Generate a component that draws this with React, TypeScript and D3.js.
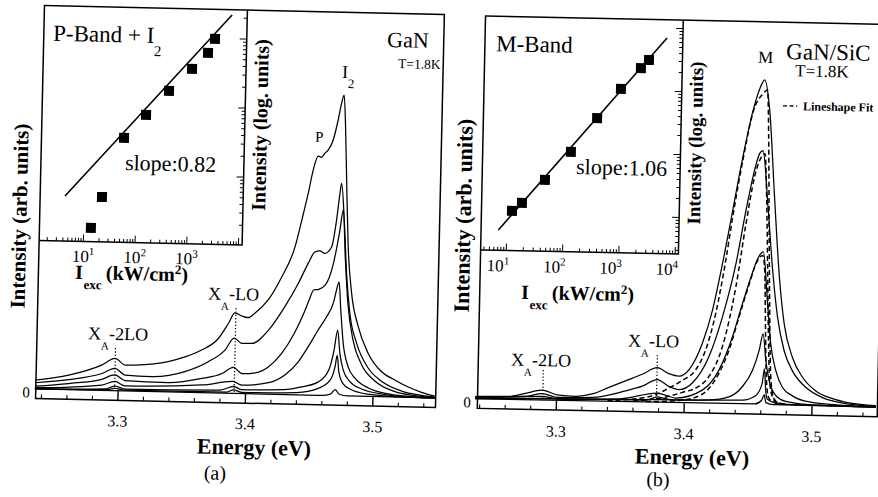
import React, { Component } from 'react';
import * as d3 from 'd3';

type Pt = [number, number];

const FONT = '"Liberation Serif", "Times New Roman", serif';
const fontStyle = { fontFamily: FONT };

function translate(x: number, y: number) {
  return `translate(${x}, ${y})`;
}

// text helpers: the family has to sit on each element
function T(props: any) {
  return <text fill="#000" {...props} style={fontStyle} />;
}
function S(props: any) {
  return <tspan {...props} style={fontStyle} />;
}

// energy axis (both panels)
const energyMajor = [3.3, 3.4, 3.5];
const energyTickLabels = ['3.3', '3.4', '3.5'];
const energyMinor = [3.24, 3.26, 3.28, 3.32, 3.34, 3.36, 3.38, 3.42, 3.44, 3.46, 3.48, 3.52, 3.54];

// ---- (a) GaN, PL spectra [energy eV, intensity arb.] ----
const specA1: Pt[] = [
  [3.235, 2.3], [3.261, 3.8], [3.2866, 6.6], [3.297, 8.4], [3.3055, 6.7], [3.3128, 6.8],
  [3.3388, 7.9], [3.3518, 9.2], [3.3648, 11.1], [3.3777, 14.2], [3.3852, 18.1], [3.3902, 21.0],
  [3.3956, 20.2], [3.4008, 19.8], [3.4059, 21.0], [3.4162, 24.6], [3.4263, 30.6], [3.4362, 38.5],
  [3.4411, 45.6], [3.4456, 52.5], [3.4491, 58.6], [3.4527, 62.3], [3.4554, 62.0], [3.458, 63.1],
  [3.4605, 63.9], [3.4642, 66.5], [3.4678, 71.8], [3.4702, 76.2], [3.472, 78.3], [3.4737, 70.1],
  [3.4759, 53], [3.4779, 38.9], [3.4814, 26.8], [3.4872, 18.1], [3.4955, 11.2], [3.5063, 6.5],
  [3.5171, 4.4], [3.5275, 2.7], [3.538, 1.4], [3.5485, 0.5],
];
const specA2: Pt[] = [
  [3.2347, 1.6], [3.2609, 2.6], [3.287, 4.4], [3.2971, 5.8], [3.3053, 4.1], [3.3262, 3.9],
  [3.352, 5.4], [3.3702, 8.1], [3.3831, 11.2], [3.3901, 14.4], [3.396, 13.1], [3.4038, 13.1],
  [3.4167, 16.6], [3.4293, 22.9], [3.4394, 29.0], [3.4468, 34.3], [3.4519, 37.3], [3.4558, 37.6],
  [3.4597, 37.0], [3.4649, 38.7], [3.4683, 45.7], [3.4705, 52.7], [3.4716, 55.3], [3.4745, 45],
  [3.4772, 31.5], [3.4804, 21.5], [3.4862, 13.8], [3.4957, 7.4], [3.5067, 4.0], [3.5224, 1.6],
  [3.5381, 0.6], [3.5485, 0.2],
];
const specA3: Pt[] = [
  [3.2347, 0.7], [3.2609, 1.6], [3.287, 2.9], [3.2972, 4.1], [3.3053, 2.7], [3.3393, 2.4],
  [3.3655, 3.7], [3.3812, 5.1], [3.3899, 6.8], [3.3969, 5.2], [3.4073, 5.5], [3.4174, 7.1],
  [3.4276, 10.7], [3.4372, 16.0], [3.4438, 20.9], [3.4483, 24.8], [3.4516, 27.4], [3.4555, 27.6],
  [3.4607, 28.8], [3.4666, 34.4], [3.4711, 43.1], [3.4734, 48.4], [3.4758, 36], [3.4787, 24],
  [3.4834, 14.5], [3.4904, 8.3], [3.5014, 4.0], [3.5171, 1.4], [3.5328, 0.5], [3.5485, 0.1],
];
const specA4: Pt[] = [
  [3.2347, 0.3], [3.287, 1.4], [3.2974, 2.4], [3.3053, 1.3], [3.3655, 2.0], [3.3897, 3.1],
  [3.3969, 2.2], [3.4178, 3.0], [3.4305, 5.1], [3.4408, 8.6], [3.4483, 12.6], [3.4558, 17.0],
  [3.4622, 20.5], [3.4675, 24.4], [3.4695, 27.5], [3.4714, 29.6], [3.4732, 22.4], [3.4757, 13.7],
  [3.48, 7.6], [3.4857, 4.6], [3.4962, 2.2], [3.5119, 0.8], [3.5355, 0.1], [3.5485, 0],
];
const specA5: Pt[] = [
  [3.2347, 0.1], [3.29, 0.4], [3.2975, 1.2], [3.3053, 0.5], [3.38, 0.8], [3.3906, 1.8],
  [3.3969, 1.0], [3.43, 1.3], [3.4439, 2.1], [3.4569, 3.5], [3.4648, 6.6], [3.4687, 11.9],
  [3.4711, 17.1], [3.4733, 11], [3.4762, 6.7], [3.4818, 3.7], [3.491, 1.9], [3.5093, 0.6],
  [3.53, 0.1], [3.5485, 0],
];
const specA6: Pt[] = [
  [3.2347, 0], [3.29, 0.2], [3.2975, 0.6], [3.3053, 0.2], [3.385, 0.3], [3.3906, 0.9],
  [3.3969, 0.3], [3.44, 0.6], [3.4569, 1.8], [3.4661, 4.0], [3.4697, 7.5], [3.4712, 10.5],
  [3.4728, 6.2], [3.4762, 3.2], [3.4826, 1.7], [3.4957, 0.6], [3.52, 0.1], [3.5485, 0],
];
const specA7: Pt[] = [
  [3.2347, 0], [3.46, 0], [3.4665, 0.4], [3.4703, 1.6], [3.4735, 0.4], [3.48, 0], [3.5485, 0],
];
const ganSpectra = [specA1, specA2, specA3, specA4, specA5, specA6, specA7];

// phonon replica markers (energy, top of dotted line)
const replicaEnergyA = [3.2972, 3.391];
const replicaTopA = [11.1, 22.2];

// inset (a): P-band + I2 vs excitation
const excitationA = [13.8, 21.9, 55.1, 143.5, 389, 1059, 2123, 2858];
const intensityA = [1.63, 4.62, 33.7, 73.8, 167, 354, 612, 980];
const fitLineA: Pt[] = [[4.22, 4.65], [5970, 2213]];
const insetExponentsA = ['1', '2', '3'];

// ---- (b) GaN/SiC ----
const specB1: Pt[] = [
  [3.2364, 0.65], [3.2625, 0.8], [3.2756, 1.7], [3.2885, 2.6], [3.3017, 1.4], [3.3147, 1.2],
  [3.3278, 1.9], [3.3408, 3.7], [3.3537, 5.5], [3.3667, 7.3], [3.3783, 9.1], [3.3875, 7.6],
  [3.3954, 7.0], [3.4031, 8.7], [3.4132, 15.7], [3.4206, 24.4], [3.4277, 36.6], [3.4348, 50.5],
  [3.4419, 64.5], [3.4491, 76.6], [3.454, 82.3], [3.4577, 84.6], [3.4621, 76.7], [3.4673, 54.1],
  [3.4724, 33.3], [3.4769, 21.2], [3.4839, 12.5], [3.4921, 7.4], [3.5027, 3.9], [3.5159, 2.0],
  [3.529, 1.0], [3.55, 0.4],
];
const specB2: Pt[] = [
  [3.2364, 0.4], [3.2756, 0.9], [3.2885, 1.7], [3.3017, 0.8], [3.3278, 1.0], [3.354, 2.9],
  [3.3669, 4.2], [3.3785, 6.0], [3.3877, 4.3], [3.3956, 3.5], [3.406, 5.3], [3.4186, 12.3],
  [3.4285, 22.7], [3.4382, 36.6], [3.4452, 50.6], [3.4512, 61], [3.4549, 65.4], [3.4575, 66.2],
  [3.4621, 52.4], [3.467, 35.1], [3.4716, 22.9], [3.4773, 14.2], [3.4841, 9.0], [3.4948, 4.8],
  [3.5081, 2.2], [3.5239, 0.9], [3.55, 0.2],
];
const specB3: Pt[] = [
  [3.2364, 0.3], [3.2885, 1.0], [3.3017, 0.4], [3.35, 0.8], [3.3787, 2.5], [3.3931, 1.3],
  [3.4139, 3.5], [3.4266, 8.8], [3.4366, 17.5], [3.444, 26.3], [3.4502, 33.2], [3.4551, 38.0],
  [3.4594, 39.8], [3.4636, 26.3], [3.4667, 15.9], [3.4711, 9.0], [3.4765, 4.7], [3.4845, 2.5],
  [3.4977, 1.0], [3.5239, 0.3], [3.55, 0.1],
];
const specB4: Pt[] = [
  [3.2364, 0.2], [3.289, 0.5], [3.37, 0.6], [3.3788, 1.5], [3.39, 0.8], [3.4193, 1.0],
  [3.4348, 1.9], [3.4451, 4.6], [3.4528, 8.9], [3.4577, 14.1], [3.4606, 18.5], [3.4631, 11.6],
  [3.466, 6.4], [3.4715, 2.5], [3.4794, 1.0], [3.4977, 0.3], [3.55, 0],
];
const specB5: Pt[] = [
  [3.2364, 0.1], [3.3788, 0.8], [3.4454, 1.1], [3.4559, 2.4], [3.4606, 5.5], [3.4622, 9.4],
  [3.4635, 3.8], [3.465, 1.5], [3.4716, 0.6], [3.4846, 0.2], [3.55, 0],
];
const specB6: Pt[] = [
  [3.2364, 0], [3.455, 0.2], [3.4605, 1.2], [3.4625, 2.6], [3.4638, 0.6], [3.47, 0.1], [3.55, 0],
];
const sicSpectra = [specB1, specB2, specB3, specB4, specB5, specB6];

// lineshape fits (dashed)
const fitB1: Pt[] = [
  [3.34, 0.3], [3.354, 0.6], [3.3775, 2.1], [3.3879, 3.9], [3.3981, 5.9], [3.4083, 8.7],
  [3.4159, 14], [3.4232, 23.6], [3.4302, 37.5], [3.4349, 48.8], [3.4419, 63.6], [3.4491, 76.2],
  [3.4566, 81], [3.46, 82], [3.4617, 69.8], [3.4634, 48], [3.4652, 26.3], [3.4667, 10.7],
  [3.4684, 3.8], [3.4703, 1.6], [3.4742, 0.5], [3.4794, 0.2],
];
const fitB2: Pt[] = [
  [3.36, 0.3], [3.3866, 1.6], [3.3982, 2.8], [3.4102, 4.3], [3.4189, 7.1], [3.4289, 14.9],
  [3.4385, 30.6], [3.4454, 47.1], [3.4513, 59.3], [3.4563, 64.5], [3.4591, 65.4], [3.4613, 52.4],
  [3.4631, 35.1], [3.4648, 17.7], [3.4664, 6.4], [3.4689, 2.1], [3.4716, 0.9], [3.4794, 0.3],
];
const fitB3: Pt[] = [
  [3.37, 0.2], [3.3932, 0.6], [3.4088, 1.6], [3.4191, 4.0], [3.4267, 8.0], [3.4341, 14.0],
  [3.4415, 22.8], [3.449, 31.5], [3.4539, 36.7], [3.459, 38.9], [3.4608, 35], [3.4624, 19.4],
  [3.4638, 7.2], [3.4658, 2.0], [3.4689, 0.9], [3.4742, 0.3],
];
const sicFits = [fitB1, fitB2, fitB3];

const replicaEnergyB = [3.2892, 3.3782];
const replicaTopB = [7.9, 12.4];

// inset (b): M-band vs excitation
const excitationB = [12.2, 18.2, 45.7, 129, 366, 946, 2104, 2904];
const intensityB = [11.2, 15.1, 35.6, 101, 356, 1050, 2291, 3090];
const fitLineB: Pt[] = [[7.1, 5.5], [5970, 7015]];
const insetExponentsB = ['1', '2', '3', '4'];

function logTicks(domain: number[]) {
  const out: { v: number; major: boolean }[] = [];
  const lo = Math.floor(Math.log10(domain[0]));
  const hi = Math.ceil(Math.log10(domain[1]));
  for (let e = lo; e <= hi; e++) {
    for (let m = 1; m <= 9; m++) {
      const v = m * Math.pow(10, e);
      if (v >= domain[0] && v <= domain[1]) out.push({ v, major: m === 1 });
    }
  }
  return out;
}

class EnergyFrame extends Component<any> {
  render() {
    const { x, zero, top, left, right, labelY } = this.props;
    const bottom = zero + 9.5;
    return (
      <g>
        <g stroke="#000" fill="none">
          <path d={`M${left},${bottom}V${top}H${right}V${bottom}Z`} strokeWidth={1.5} />
          {energyMajor.map((e, i) => (
            <line key={'M' + i} x1={x(e)} x2={x(e)} y1={bottom} y2={zero} strokeWidth={1.4} />
          ))}
          {energyMinor.map((e, i) => (
            <line key={'m' + i} x1={x(e)} x2={x(e)} y1={bottom} y2={bottom - 4} strokeWidth={1.1} />
          ))}
        </g>
        {energyTickLabels.map((t, i) => (
          <T key={'t' + i} x={x(energyMajor[i])} y={labelY} dy="0.35em" textAnchor="middle" fontSize={16}>
            {t}
          </T>
        ))}
      </g>
    );
  }
}

class SpectraLines extends Component<any> {
  render() {
    const { x, y, spectra, dashed } = this.props;
    const line = d3
      .line<Pt>()
      .x(d => x(d[0]))
      .y(d => y(d[1]))
      .curve(d3.curveMonotoneX);
    return (
      <g fill="none" stroke="#000">
        {spectra.map((s: Pt[], i: number) => (
          <path key={i} d={line(s) || ''} strokeWidth={dashed ? 1.5 : 1.25}
            strokeDasharray={dashed ? '5,3' : undefined} />
        ))}
      </g>
    );
  }
}

class Inset extends Component<any> {
  render() {
    let { left, right, top, bottom, xDomain, yDomain, excitation, intensity, fit, exponents,
      labelY, labelShift } = this.props;
    let xs = d3.scaleLog().domain(xDomain).range([left, right]);
    let ys = d3.scaleLog().domain(yDomain).range([bottom, top]);
    let fitPath = d3.line<Pt>().x(d => xs(d[0])).y(d => ys(d[1]))(fit) || '';
    return (
      <g>
        <g stroke="#000" fill="none">
          <path d={`M${left},${bottom}H${right}V${top}`} strokeWidth={1.5} />
          {logTicks(xDomain).map((t, i) => (
            <line key={'x' + i} x1={xs(t.v)} x2={xs(t.v)} y1={bottom} y2={bottom - (t.major ? 7 : 3.5)} />
          ))}
          {logTicks(yDomain).map((t, i) => (
            <line key={'y' + i} x1={right} x2={right - (t.major ? 7 : 3.5)} y1={ys(t.v)} y2={ys(t.v)} />
          ))}
          <path d={fitPath} strokeWidth={1.6} />
        </g>
        {excitation.map((e: number, i: number) => (
          <rect key={i} x={xs(e) - 5} y={ys(intensity[i]) - 5} width={10} height={10} fill="#000" />
        ))}
        {exponents.map((k: string) => (
          <T key={k} x={xs(Math.pow(10, +k)) + labelShift} y={labelY} textAnchor="middle" fontSize={17}>
            10<S fontSize={11} dy={-7}>{k}</S>
          </T>
        ))}
      </g>
    );
  }
}

class Replicas extends Component<any> {
  render() {
    const { x, y, energies, tops } = this.props;
    return (
      <g stroke="#000" strokeWidth={1.2} strokeDasharray="1.3,2">
        {energies.map((e: number, i: number) => (
          <line key={i} x1={x(e)} x2={x(e)} y1={y(tops[i])} y2={y(0)} />
        ))}
      </g>
    );
  }
}

function PhononLabel(props: any) {
  const { x, y, order } = props;
  return (
    <T x={x} y={y} fontSize={18}>
      X<S fontSize={11} dy={10}>A</S>
      <S dy={-10}>{order}</S>
    </T>
  );
}

function ExcLabel(props: any) {
  const { x, y } = props;
  return (
    <T x={x} y={y} fontSize={20} fontWeight="bold">
      I<S fontSize={13} dy={10} dx={1}>exc</S>
      <S dy={-10} dx={4}>(kW/cm</S>
      <S fontSize={13} dy={-7}>2</S>
      <S dy={7}>)</S>
    </T>
  );
}

function VerticalLabel(props: any) {
  const { x, y, size, children } = props;
  return (
    <T transform={`${translate(x, y)} rotate(-90)`} textAnchor="middle" dy="0.35em"
      fontSize={size} fontWeight="bold">
      {children}
    </T>
  );
}

class App extends Component {
  render() {
    const xA = d3.scaleLinear().domain([3.2354, 3.5492]).range([40, 440]);
    const yA = d3.scaleLinear().domain([0, 100]).range([393.5, 9.5]);
    const xB = d3.scaleLinear().domain([3.2382, 3.5512]).range([481.5, 881.5]);
    const yB = d3.scaleLinear().domain([0, 100]).range([403, 19]);

    return (
      <svg width={878} height={497} style={{ position: 'absolute', left: 0, top: 0, background: '#fff' }}>
        <rect width={878} height={497} fill="#fff" />

        {/* (a) GaN */}
        <g transform="rotate(1.3 240 205)">
          <EnergyFrame x={xA} zero={393.5} top={10} left={40} right={440} labelY={423.5} />
          <SpectraLines x={xA} y={yA} spectra={ganSpectra} />
          <Replicas x={xA} y={yA} energies={replicaEnergyA} tops={replicaTopA} />
          <Inset left={40} right={243} top={10} bottom={245}
            xDomain={[Math.pow(10, 0.145), Math.pow(10, 4.07)]}
            yDomain={[Math.pow(10, 0.0145), Math.pow(10, 3.42)]}
            excitation={excitationA} intensity={intensityA} fit={fitLineA}
            exponents={insetExponentsA} labelY={265.5} labelShift={0} />
          <T x={49.3} y={45} fontSize={23}>
            P-Band + I<S fontSize={15} dy={13}>2</S>
          </T>
          <T x={124.2} y={172.6} fontSize={22}>slope:0.82</T>
          <ExcLabel x={76.7} y={282.5} />
          <VerticalLabel x={258.2} y={124.5} size={20}>Intensity (log. units)</VerticalLabel>
          <VerticalLabel x={19.5} y={221} size={21}>Intensity (arb. units)</VerticalLabel>
          <T x={383.4} y={43.7} fontSize={22}>GaN</T>
          <T x={394.9} y={64.5} fontSize={13.5}>T=1.8K</T>
          <T x={313.6} y={140.2} fontSize={15}>P</T>
          <T x={339.1} y={75.6} fontSize={18}>
            I<S fontSize={13} dy={10}>2</S>
          </T>
          <PhononLabel x={210.2} y={300.1} order="-LO" />
          <PhononLabel x={91.1} y={342.7} order="-2LO" />
          <T x={34.2} y={396.9} dy="0.35em" textAnchor="end" fontSize={15}>0</T>
          <T x={259.5} y={446.7} dy="0.35em" textAnchor="middle" fontSize={22} fontWeight="bold">
            Energy (eV)
          </T>
          <T x={221} y={473} dy="0.35em" textAnchor="middle" fontSize={20}>(a)</T>
        </g>

        {/* (b) GaN/SiC */}
        <g transform="rotate(1.2 677 210)">
          <EnergyFrame x={xB} zero={403} top={20} left={481.5} right={881.5} labelY={433.5} />
          <SpectraLines x={xB} y={yB} spectra={sicSpectra} />
          <SpectraLines x={xB} y={yB} spectra={sicFits} dashed />
          <Replicas x={xB} y={yB} energies={replicaEnergyB} tops={replicaTopB} />
          <Inset left={481.5} right={679.3} top={20} bottom={254}
            xDomain={[Math.pow(10, 0.544), Math.pow(10, 4.057)]}
            yDomain={[Math.pow(10, 0.42), Math.pow(10, 4.135)]}
            excitation={excitationB} intensity={intensityB} fit={fitLineB}
            exponents={insetExponentsB} labelY={275} labelShift={-8} />
          <T x={492.7} y={55} fontSize={23}>M-Band</T>
          <T x={575.3} y={176.2} fontSize={22}>slope:1.06</T>
          <ExcLabel x={522.9} y={302.1} />
          <VerticalLabel x={693.6} y={142.6} size={19}>Intensity (log. units)</VerticalLabel>
          <VerticalLabel x={463.2} y={220} size={22}>Intensity (arb. units)</VerticalLabel>
          <T x={782.9} y={56.8} fontSize={23}>GaN/SiC</T>
          <T x={792.2} y={73.9} fontSize={17}>T=1.8K</T>
          <T x={754.9} y={61.1} fontSize={17}>M</T>
          <line x1={780.8} x2={795} y1={103.6} y2={103.6} stroke="#000" strokeWidth={1.3} strokeDasharray="4,2.5" />
          <T x={800.8} y={107.6} fontSize={12} fontWeight="bold">Lineshape Fit</T>
          <PhononLabel x={630.9} y={347.5} order="-LO" />
          <PhononLabel x={514.3} y={368.9} order="-2LO" />
          <T x={475} y={406.4} dy="0.35em" textAnchor="end" fontSize={15}>0</T>
          <T x={697.2} y={456.7} dy="0.35em" textAnchor="middle" fontSize={22} fontWeight="bold">
            Energy (eV)
          </T>
          <T x={663.6} y={479.4} dy="0.35em" textAnchor="middle" fontSize={20}>(b)</T>
        </g>
      </svg>
    );
  }
}

export default App;
